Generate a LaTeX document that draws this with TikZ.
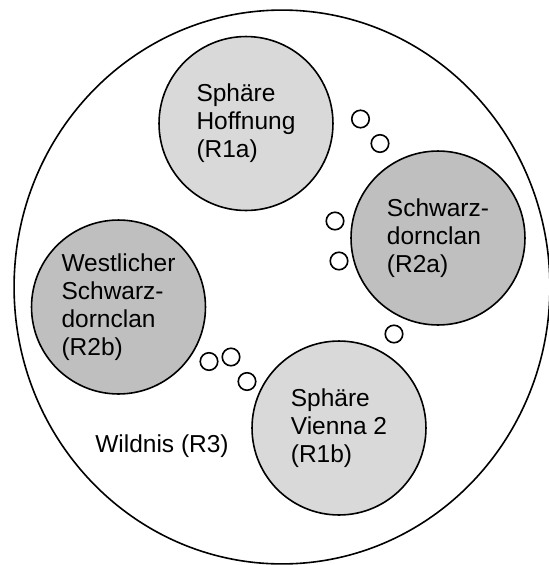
\documentclass[tikz,border=0pt]{standalone}
\usepackage{fontspec}
\setmainfont{Liberation Sans}
\usetikzlibrary{shapes.geometric}

\definecolor{spheregray}{HTML}{D9D9D9}
\definecolor{clangray}{HTML}{BFBFBF}

\newcommand{\edgescl}{0.017573}
\newcommand{\coordscl}[1] {#1*\edgescl}

\tikzset{
    region/.style={circle, draw, thick, minimum size=87pt, inner sep=0pt,
        align=left, font=\fontsize{12.25}{14}\selectfont},
    sphere/.style={region, fill=spheregray},
    clan/.style={region, fill=clangray},
    bubble/.style={circle, draw, thick, minimum size=8.75pt, inner sep=0pt},
}
\newcommand{\hn}{\node[sphere]}
\newcommand{\cn}{\node[clan]}
\newcommand{\bub}{\node[bubble]}

\begin{document}
\begin{tikzpicture}
        \useasboundingbox (0,0) rectangle (\coordscl{549}, \coordscl{-565});

        % wilderness
        \node[ellipse, draw, thick, minimum width=268pt, minimum height=277pt]
            (r3) at (\coordscl{282}, \coordscl{-287}) {};
        \node[font=\fontsize{12.25}{14}\selectfont] (r3label)
            at (\coordscl{162}, \coordscl{-446}) {Wildnis (R3)};

        % regions
        \hn (r1a) at (\coordscl{246}, \coordscl{-123.5}) {Sphäre\\Hoffnung\\(R1a)};
        \cn (r2a) at (\coordscl{438}, \coordscl{-238}) {Schwarz-\\dornclan\\(R2a)};
        \cn (r2b) at (\coordscl{118.5}, \coordscl{-307}) {Westlicher\\Schwarz-\\dornclan\\(R2b)};
        \hn (r1b) at (\coordscl{339}, \coordscl{-428}) {Sphäre\\Vienna 2\\(R1b)};

        % bubbles
        \bub (b1) at (\coordscl{360.5}, \coordscl{-119}) {};
        \bub (b2) at (\coordscl{380}, \coordscl{-143.5}) {};
        \bub (b3) at (\coordscl{335}, \coordscl{-221}) {};
        \bub (b4) at (\coordscl{339}, \coordscl{-261}) {};
        \bub (b5) at (\coordscl{394}, \coordscl{-334}) {};
        \bub (b6) at (\coordscl{209}, \coordscl{-361.5}) {};
        \bub (b7) at (\coordscl{231}, \coordscl{-357}) {};
        \bub (b8) at (\coordscl{247}, \coordscl{-381.5}) {};
    \end{tikzpicture}
\end{document}
